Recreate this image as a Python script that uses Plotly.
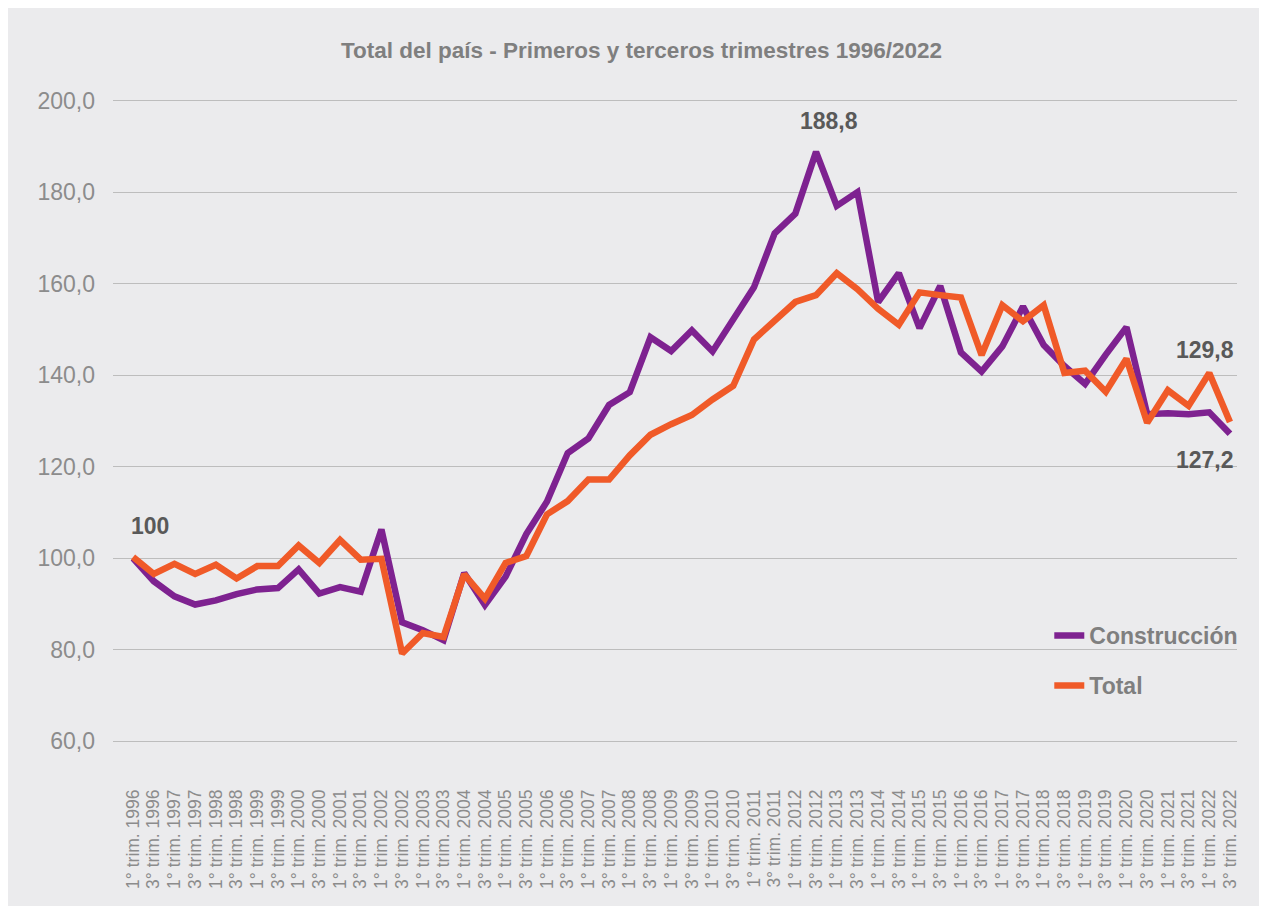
import plotly.graph_objects as go

years = list(range(1996, 2023))
quarters = ["1°", "3°"]
categories = [f"{q} trim. {y}" for y in years for q in quarters]

construccion = [
    100.0, 95.0, 91.7, 89.9, 90.8, 92.2, 93.2, 93.5, 97.6, 92.3,
    93.7, 92.7, 106.3, 86.0, 84.3, 82.1, 96.8, 89.8, 96.0, 105.3,
    112.4, 123.0, 126.2, 133.5, 136.3, 148.3, 145.3, 149.8, 145.2, 152.0,
    159.2, 171.0, 175.3, 188.8, 177.0, 180.0, 156.0, 162.3, 150.3, 159.5,
    145.0, 140.8, 146.3, 155.0, 146.6, 142.0, 138.1, 144.5, 150.5, 131.5,
    131.7, 131.5, 131.9, 127.2,
]

total = [
    100.3, 96.6, 98.8, 96.6, 98.6, 95.6, 98.3, 98.3, 102.8, 99.0,
    104.0, 99.7, 99.9, 79.2, 83.7, 82.8, 96.5, 91.2, 99.0, 100.5,
    109.6, 112.5, 117.2, 117.2, 122.5, 127.0, 129.3, 131.3, 134.7, 137.7,
    147.8, 151.8, 156.0, 157.5, 162.3, 158.8, 154.5, 151.0, 158.1, 157.5,
    157.0, 144.4, 155.3, 151.8, 155.3, 140.5, 141.0, 136.4, 143.6, 129.6,
    136.7, 133.3, 140.5, 129.8,
]

series_names = ["Construcción", "Total"]
series_colors = ["#7E2290", "#F05A28"]

title_text = "Total del país - Primeros y terceros trimestres 1996/2022"
y_ticks = [60, 80, 100, 120, 140, 160, 180, 200]

FONT = "Liberation Sans, Arial, sans-serif"
BG = "#EBEBED"

fig = go.Figure()
for name, vals, col in zip(series_names, [construccion, total], series_colors):
    fig.add_trace(go.Scatter(
        x=categories, y=vals, mode="lines", name=name,
        line=dict(color=col, width=6.5),
        legendgroup=name,
    ))

ann_style = dict(showarrow=False, font=dict(family=FONT, size=23, color="#595959", weight="bold"))
fig.add_annotation(x=categories[0], y=construccion[0], text="100", xshift=17, yshift=32, **ann_style)
peak_i = construccion.index(max(construccion))
fig.add_annotation(x=categories[peak_i], y=construccion[peak_i], text="188,8", xshift=13, yshift=31, **ann_style)
fig.add_annotation(x=categories[-1], y=total[-1], text="129,8", xshift=-25, yshift=72, **ann_style)
fig.add_annotation(x=categories[-1], y=construccion[-1], text="127,2", xshift=-25, yshift=-26, **ann_style)

fig.update_layout(
    width=1267, height=906,
    paper_bgcolor=BG, plot_bgcolor=BG,
    separators=",.",
    margin=dict(l=105, r=38, t=88, b=168),
    title=dict(text=title_text, x=0.5, xanchor="center", y=1 - 42/906, yanchor="middle",
               font=dict(family=FONT, size=22.5, color="#7F7F7F", weight="bold")),
    showlegend=True,
    legend=dict(x=0.833, y=0.203, xanchor="left", yanchor="top",
                bgcolor="rgba(0,0,0,0)", tracegroupgap=17,
                font=dict(family=FONT, size=23, color="#7F7F7F", weight="bold")),
    font=dict(family=FONT),
)
fig.update_xaxes(
    type="category", range=[-0.97, 53.34], tickangle=-90,
    tickmode="array", tickvals=categories, ticktext=categories,
    showgrid=False, zeroline=False, showline=False, ticks="",
    tickfont=dict(family=FONT, size=17.5, color="#8C8C8C"),
    ticklabelstandoff=39,
)
fig.update_yaxes(
    range=[59, 201], tickvals=y_ticks, tickformat=".1f",
    showgrid=True, gridcolor="#BDBDBD", gridwidth=1.3,
    zeroline=False, showline=False, ticks="",
    tickfont=dict(family=FONT, size=23, color="#8C8C8C"),
    ticklabelstandoff=17,
)

fig.write_html("out.html")
